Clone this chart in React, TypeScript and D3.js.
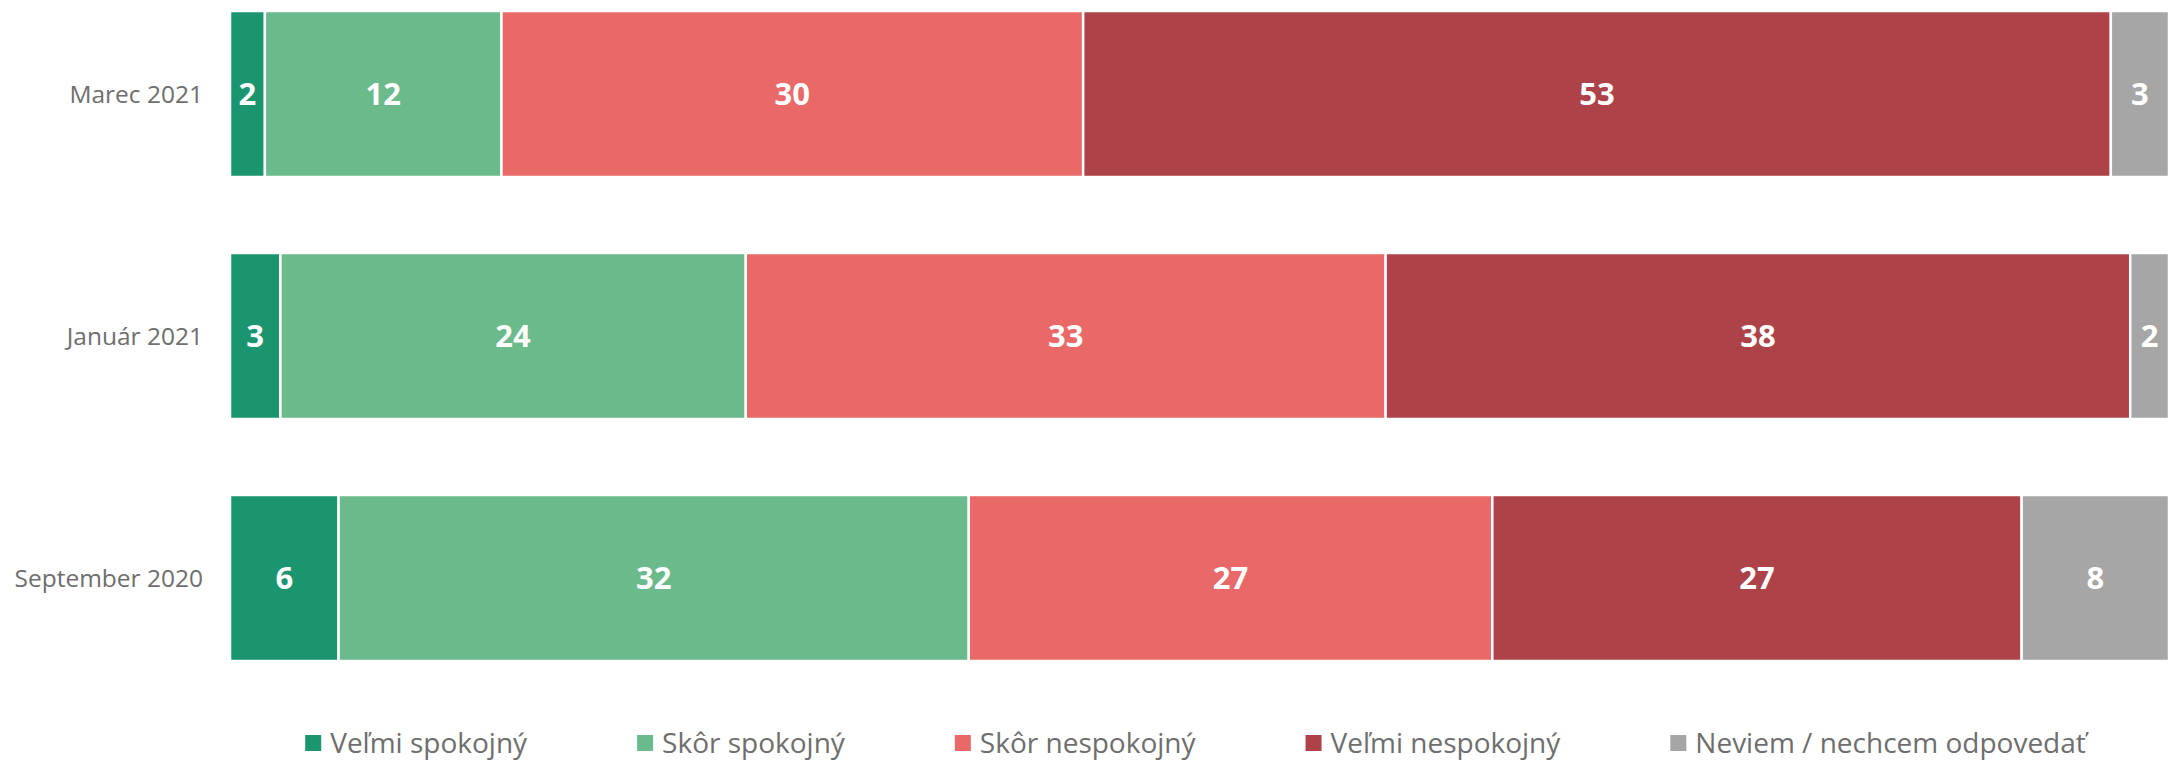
import React, { useEffect, useRef } from 'react';
import * as d3 from 'd3';

const width = 2169;
const height = 763;

const periods = ['Marec 2021', 'Január 2021', 'September 2020'];
const answers = [
  'Veľmi spokojný',
  'Skôr spokojný',
  'Skôr nespokojný',
  'Veľmi nespokojný',
  'Neviem / nechcem odpovedať',
];
const colors = ['#1b9470', '#6aba8b', '#e96968', '#ae4249', '#a6a6a6'];

// shares in %, one array per answer, in the order of periods
const velmiSpokojny = [1.8, 2.6, 5.6];
const skorSpokojny = [12.2, 24, 32.5];
const skorNespokojny = [30, 33, 27];
const velmiNespokojny = [53, 38.4, 27.3];
const neviem = [3, 2, 7.6];

const labelVelmiSpokojny = [2, 3, 6];
const labelSkorSpokojny = [12, 24, 32];
const labelSkorNespokojny = [30, 33, 27];
const labelVelmiNespokojny = [53, 38, 27];
const labelNeviem = [3, 2, 8];

const seriesValues = [velmiSpokojny, skorSpokojny, skorNespokojny, velmiNespokojny, neviem];
const seriesLabels = [labelVelmiSpokojny, labelSkorSpokojny, labelSkorNespokojny, labelVelmiNespokojny, labelNeviem];

const margin = { top: 11, right: 0, bottom: 102, left: 230 };
const font = '"Open Sans", "Noto Sans", sans-serif';

const App = () => {
  const ref = useRef<SVGSVGElement>(null);

  useEffect(() => {
    const svg = d3.select(ref.current);
    svg.selectAll('*').remove();

    const x = d3.scaleLinear().domain([0, 100]).range([margin.left, width - margin.right]);
    const y = d3.scaleBand().domain(periods).range([margin.top, height - margin.bottom]).paddingInner(0.314).paddingOuter(0);

    const rows = periods.map((p, i) => {
      const obj: any = { period: p };
      answers.forEach((a, j) => { obj[a] = seriesValues[j][i]; });
      return obj;
    });
    const stacked = d3.stack().keys(answers)(rows);

    const g = svg.append('g');
    stacked.forEach((layer, j) => {
      const lg = g.append('g');
      lg.selectAll('rect')
        .data(layer)
        .join('rect')
        .attr('x', (d: any) => x(d[0]))
        .attr('y', (d: any) => y(d.data.period)!)
        .attr('width', (d: any) => x(d[1]) - x(d[0]))
        .attr('height', y.bandwidth())
        .attr('fill', colors[j])
        .attr('stroke', '#fff')
        .attr('stroke-width', 2.5);
      lg.selectAll('text')
        .data(layer)
        .join('text')
        .attr('x', (d: any) => (x(d[0]) + x(d[1])) / 2)
        .attr('y', (d: any) => y(d.data.period)! + y.bandwidth() / 2)
        .attr('dy', '0.36em')
        .attr('text-anchor', 'middle')
        .attr('fill', '#fff')
        .attr('font-family', font)
        .attr('font-weight', 700)
        .attr('font-size', 31)
        .text((d: any, i: number) => seriesLabels[j][i]);
    });

    // category labels
    svg.append('g')
      .selectAll('text')
      .data(periods)
      .join('text')
      .attr('x', margin.left - 27)
      .attr('y', (d) => y(d)! + y.bandwidth() / 2)
      .attr('dy', '0.36em')
      .attr('text-anchor', 'end')
      .attr('fill', '#6e6e6e')
      .attr('font-family', font)
      .attr('font-size', 24.5)
      .text((d) => d);

    // legend
    const legend = svg.append('g');
    const items = legend.selectAll('g').data(answers).join('g');
    items.append('rect')
      .attr('width', 16)
      .attr('height', 16)
      .attr('y', -8)
      .attr('fill', (d, i) => colors[i]);
    items.append('text')
      .attr('x', 25)
      .attr('dy', '0.36em')
      .attr('fill', '#6e6e6e')
      .attr('font-family', font)
      .attr('font-size', 28)
      .text((d) => d);

    const gap = 110;
    let offset = 0;
    const offsets: number[] = [];
    items.each(function () {
      offsets.push(offset);
      const t = (this as SVGGElement).querySelector('text') as SVGTextElement;
      offset += 25 + t.getComputedTextLength() + gap;
    });
    const total = offset - gap;
    const legendCenter = (margin.left + width) / 2 - 4;
    const legendY = 743;
    items.attr('transform', (d, i) => `translate(${legendCenter - total / 2 + offsets[i]},${legendY})`);
  }, []);

  return (
    <svg
      ref={ref}
      width={width}
      height={height}
      style={{ position: 'absolute', left: 0, top: 0, background: '#fff' }}
    />
  );
};

export default App;
